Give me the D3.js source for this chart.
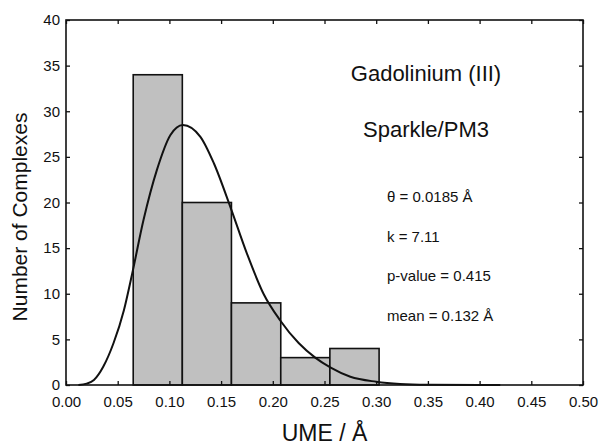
<!DOCTYPE html>
<html lang="en">
<head>
  <meta charset="UTF-8">
  <title>UME histogram - Gadolinium (III)</title>
  <script src="https://d3js.org/d3.v7.min.js"></script>
  <style>
    body {
      margin: 0;
      padding: 0;
      background: #fff;
    }
    svg text {
      font-family: "Liberation Sans", Arial, sans-serif;
      fill: #111;
    }
    .axis text {
      font-size: 15px;
    }
    .axis line {
      stroke: #111;
      stroke-width: 1.3;
    }
  </style>
</head>
<body>
<svg id="chart" width="599" height="446"></svg>
<script>
// histogram bins (UME, Å) and counts
const binEdges = [0.065, 0.1125, 0.160, 0.2077, 0.2552, 0.3028];
const binCounts = [34, 20, 9, 3, 4];

// fitted curve
const curveX = [0.012, 0.020, 0.027, 0.036, 0.046, 0.056, 0.064, 0.075, 0.088, 0.101, 0.113,
                0.130, 0.143, 0.159, 0.175, 0.191, 0.207, 0.225, 0.241, 0.256, 0.275, 0.300,
                0.323, 0.350, 0.400, 0.420];
const curveY = [0, 0.15, 0.55, 2.0, 4.6, 8.2, 12.2, 18.1, 23.6, 27.4, 28.5,
                27.2, 24.3, 19.5, 14.4, 10.0, 7.1, 4.6, 3.0, 1.9, 0.9, 0.36,
                0.12, 0.03, 0.0, 0];

const xTicks = [0, 0.05, 0.10, 0.15, 0.20, 0.25, 0.30, 0.35, 0.40, 0.45, 0.50];
const yTicks = [0, 5, 10, 15, 20, 25, 30, 35, 40];

const titleLines = ["Gadolinium (III)", "Sparkle/PM3"];
const statLines = ["\u03B8 = 0.0185 \u00C5", "k = 7.11", "p-value = 0.415", "mean = 0.132 \u00C5"];

const svg = d3.select("#chart");
const margin = {top: 20, right: 16, bottom: 61, left: 66};
const W = 599, H = 446;
const w = W - margin.left - margin.right;
const h = H - margin.top - margin.bottom;

const g = svg.append("g").attr("transform", `translate(${margin.left},${margin.top})`);

const x = d3.scaleLinear().domain([0, 0.5]).range([0, w]);
const y = d3.scaleLinear().domain([0, 40]).range([h, 0]);

// bars
const bins = binCounts.map((c, i) => ({x0: binEdges[i], x1: binEdges[i + 1], n: c}));
g.selectAll("rect.bar")
  .data(bins)
  .join("rect")
  .attr("class", "bar")
  .attr("x", d => x(d.x0))
  .attr("y", d => y(d.n))
  .attr("width", d => x(d.x1) - x(d.x0))
  .attr("height", d => y(0) - y(d.n))
  .attr("fill", "#c0c0c0")
  .attr("stroke", "#111")
  .attr("stroke-width", 1.6);

// curve
const pts = curveX.map((v, i) => [v, curveY[i]]);
g.append("path")
  .datum(pts)
  .attr("fill", "none")
  .attr("stroke", "#111")
  .attr("stroke-width", 2)
  .attr("d", d3.line().x(d => x(d[0])).y(d => y(d[1])).curve(d3.curveMonotoneX));

// axes, ticks pointing inward
const fmt = d3.format(".2f");
g.append("g").attr("class", "axis")
  .attr("transform", `translate(0,${h})`)
  .call(d3.axisBottom(x).tickValues(xTicks).tickFormat(fmt).tickSizeInner(-4).tickSizeOuter(0).tickPadding(11.5));
g.append("g").attr("class", "axis")
  .call(d3.axisLeft(y).tickValues(yTicks).tickSizeInner(-4).tickSizeOuter(0).tickPadding(6));
g.append("g").attr("class", "axis")
  .call(d3.axisTop(x).tickValues(xTicks).tickFormat("").tickSizeInner(-4).tickSizeOuter(0));
g.append("g").attr("class", "axis")
  .attr("transform", `translate(${w},0)`)
  .call(d3.axisRight(y).tickValues(yTicks).tickFormat("").tickSizeInner(-4).tickSizeOuter(0));
g.selectAll(".axis .domain").remove();

// frame
g.append("rect")
  .attr("width", w).attr("height", h)
  .attr("fill", "none")
  .attr("stroke", "#111")
  .attr("stroke-width", 1.6);

// axis titles
svg.append("text")
  .attr("x", margin.left + w / 2)
  .attr("y", 441)
  .attr("text-anchor", "middle")
  .style("font-size", "23px")
  .text("UME / \u00C5");

svg.append("text")
  .attr("transform", "translate(27,217) rotate(-90)")
  .attr("text-anchor", "middle")
  .style("font-size", "21px")
  .text("Number of Complexes");

// annotations
svg.selectAll("text.title")
  .data(titleLines)
  .join("text")
  .attr("class", "title")
  .attr("x", 426)
  .attr("y", (d, i) => 81 + i * 56)
  .attr("text-anchor", "middle")
  .style("font-size", "22px")
  .text(d => d);

svg.selectAll("text.stat")
  .data(statLines)
  .join("text")
  .attr("class", "stat")
  .attr("x", 387)
  .attr("y", (d, i) => 202 + i * 39.5)
  .style("font-size", "15px")
  .text(d => d);
</script>
</body>
</html>
